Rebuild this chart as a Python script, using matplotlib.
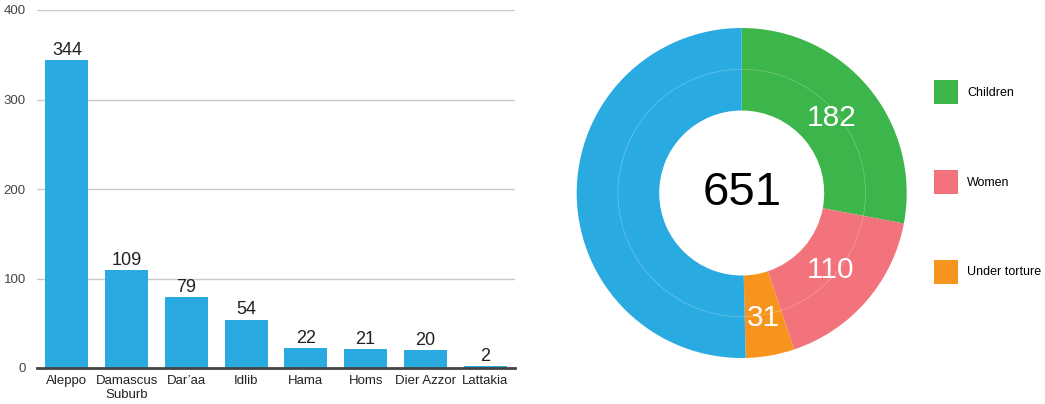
import matplotlib.pyplot as plt
import numpy as np
from matplotlib.patches import Patch, Circle

plt.rcParams['font.family'] = ['Liberation Sans', 'DejaVu Sans']

# bar chart data
cities = ['Aleppo', 'Damascus\nSuburb', "Dar\u2019aa", 'Idlib', 'Hama', 'Homs', 'Dier Azzor', 'Lattakia']
deaths = [344, 109, 79, 54, 22, 21, 20, 2]
yticks = [0, 100, 200, 300, 400]

# donut data
groups = ['Children', 'Women', 'Under torture', 'Other']
group_counts = [182, 110, 31, 328]
group_colors = ['#3cb54a', '#f2737b', '#f7941d', '#29abe2']
total = sum(group_counts)

blue = '#29abe2'

fig = plt.figure(figsize=(10.45, 4.04), dpi=100)

# left: bars
ax = fig.add_axes([37 / 1045, 1 - 368 / 404, 478 / 1045, 358 / 404])
x = range(len(cities))
bars = ax.bar(x, deaths, width=0.72, color=blue, zorder=3)
ax.bar_label(bars, labels=[str(d) for d in deaths], padding=1, fontsize=13, color='#222222')
ax.set_xlim(-0.5, len(cities) - 0.5)
ax.set_ylim(0, 400)
ax.set_yticks(yticks)
ax.set_xticks(list(x))
ax.set_xticklabels(cities, fontsize=9.5, color='#222222', linespacing=1.2)
ax.tick_params(axis='y', length=0, pad=8, labelsize=9.5, labelcolor='#444444')
ax.tick_params(axis='x', length=0, pad=5)
ax.grid(axis='y', color='#c8c8c8', linewidth=1, zorder=0)
for side in ['top', 'right', 'left']:
    ax.spines[side].set_visible(False)
ax.spines['bottom'].set_color('#444444')
ax.spines['bottom'].set_linewidth(2)
ax.spines['bottom'].set_zorder(4)

# right: donut
r_px = 165
half = 175
pax = fig.add_axes([(741.7 - half) / 1045, 1 - (193 + half) / 404, 2 * half / 1045, 2 * half / 404])
wedges, _ = pax.pie(group_counts, colors=group_colors, startangle=90, counterclock=False,
                    radius=1, wedgeprops=dict(width=0.5, edgecolor='none'))
pax.add_patch(Circle((0, 0), 0.75, fill=False, edgecolor='white', alpha=0.3, linewidth=0.5))
lim = half / r_px
pax.set_xlim(-lim, lim)
pax.set_ylim(-lim, lim)
pax.set_aspect('equal')
pax.axis('off')

for w, cnt in zip(wedges[:3], group_counts[:3]):
    mid = np.deg2rad((w.theta1 + w.theta2) / 2)
    rr = 0.71 if cnt > 50 else 0.77
    pax.text(rr * np.cos(mid), rr * np.sin(mid), str(cnt), ha='center', va='center',
             fontsize=21.5, color='white')

pax.text(0, 0, str(total), ha='center', va='center', fontsize=34, color='black')

handles = [Patch(facecolor=c, edgecolor='none') for c in group_colors[:3]]
fig.legend(handles, groups[:3], loc='upper left', bbox_to_anchor=(934 / 1045, 1 - 80 / 404),
           frameon=False, fontsize=9, handlelength=1.92, handleheight=2.58,
           labelspacing=5.26, handletextpad=0.72, borderpad=0, borderaxespad=0)

fig.savefig('out.png', dpi=100)
